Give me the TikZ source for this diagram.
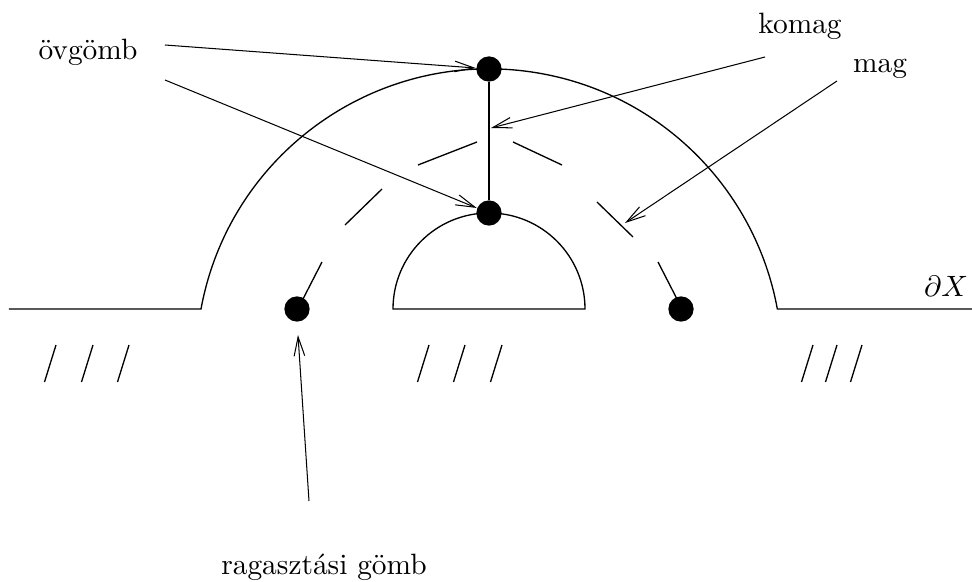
\documentclass[tikz,border=0pt]{standalone}
\usepackage{tikz}
\usetikzlibrary{arrows.meta}

\begin{document}
\begin{tikzpicture}[x=0.34pt,y=0.34pt,line width=0.45pt,
   dot/.style={circle,fill=black,minimum size=8.6pt,inner sep=0pt},
   arr/.style={-{Straight Barb[length=6.5pt,width=3.6pt]},line width=0.35pt}]
  \useasboundingbox (-489,-272) rectangle (483,309);
  % boundary with the two half discs
  \draw (-480,0) -- (-288,0) arc[start angle=169.6,end angle=10.4,radius=293] -- (483,0);
  \draw (-96,0) arc[start angle=180,end angle=0,radius=96] -- cycle;
  % hatching below the boundary
  \foreach \x in {-433,-396,-360,-60,-24,13,324,348,373}
    \draw (\x,-36) -- ++(-11.5,-37);
  % dashed core boundary
  \foreach \xa/\ya/\xb/\yb in {-186/10/-167/47,-144/84/-107/120,-71/144/-12/167,
                               24/167/73/144,108/107/144/72,169/47/188/10}
    \draw (\xa,\ya) -- (\xb,\yb);
  % balls
  \node[dot] (top)   at (0,240)  {};
  \node[dot] (mid)   at (0,96)   {};
  \node[dot] (glueL) at (-192,0) {};
  \node[dot] (glueR) at (192,0)  {};
  \draw (top) -- (mid);
  % labels
  \node (ovg)   at (-401,257)  {övgömb};
  \node (komag) at (311,283)   {komag};
  \node (mag)   at (391,240)   {mag};
  \node (rag)   at (-165,-258) {ragasztási gömb};
  \node (bd)    at (457,23)    {$\partial X$};
  % arrow ends
  \coordinate (ovg1)   at (-324,264);
  \coordinate (ovg2)   at (-324,229);
  \coordinate (komag1) at (276,252);
  \coordinate (kotip)  at (2,181);
  \coordinate (mag1)   at (348,228);
  \coordinate (magtip) at (136,86);
  \coordinate (rag1)   at (-180,-192);
  \coordinate (ragtip) at (-191,-26);
  \draw[arr] (ovg1) -- (top);
  \draw[arr] (ovg2) -- (mid);
  \draw[arr] (komag1) -- (kotip);
  \draw[arr] (mag1) -- (magtip);
  \draw[arr] (rag1) -- (ragtip);
\end{tikzpicture}
\end{document}
